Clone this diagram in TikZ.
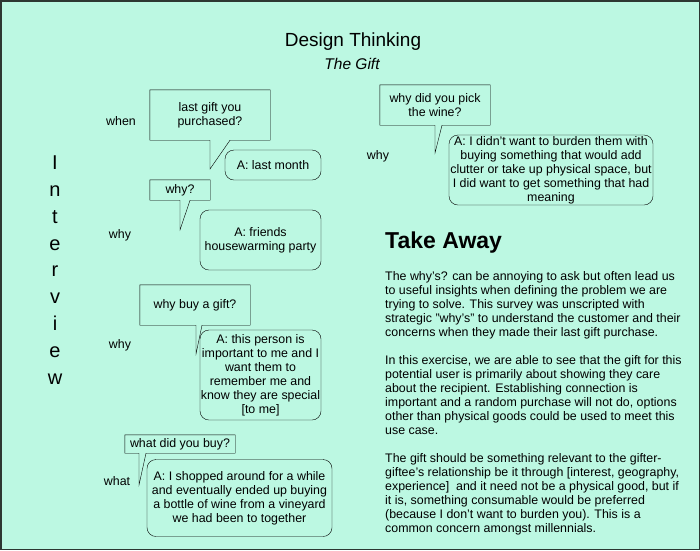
\documentclass[tikz,border=0pt]{standalone}
\usepackage{fontspec}
\setmainfont{Liberation Sans}
\usetikzlibrary{positioning,calc}
\definecolor{mint}{RGB}{188,248,226}
\definecolor{edge}{RGB}{45,55,50}

\begin{document}
\begin{tikzpicture}[x=1pt,y=-1pt,
  question/.style={rectangle,align=center,inner sep=0pt,font=\fontsize{12.4}{14}\selectfont},
  answer/.style={rectangle,draw,rounded corners=9pt,align=center,inner sep=0pt,font=\fontsize{12.4}{14}\selectfont},
  tag/.style={font=\fontsize{12.4}{14}\selectfont}]

\useasboundingbox (0,0) rectangle (700,550);
\fill[mint] (0,0) rectangle (700,550);
\draw[edge,line width=1.5pt] (0.75,0.75) rectangle (699.25,549.25);

% Title
\node (title) [font=\fontsize{19}{22}\selectfont] at (353,42) {Design Thinking};
\node (gift) [font=\itshape\fontsize{15.5}{18}\selectfont] at (352,64) {The Gift};

\node (iv) [align=center,font=\fontsize{20}{26.8}\selectfont] at (55,270) {I\\n\\t\\e\\r\\v\\i\\e\\w};

% Questions
\node (q1) [question,minimum width=120pt,minimum height=50pt] at (210,115) {last gift you\\purchased?};
\node (q2) [question,minimum width=60pt,minimum height=20pt] at (180,190) {why?};
\node (q3) [question,minimum width=110pt,minimum height=40pt] at (195,305) {why buy a gift?};
\node (q4) [question,minimum width=110pt,minimum height=18pt] at (180,444) {what did you buy?};
\node (q5) [question,minimum width=110pt,minimum height=40pt] at (435,105) {why did you pick\\the wine?};

\coordinate (t1) at (210,169);
\coordinate (t2) at (180,230);
\coordinate (t3) at (196,354);
\coordinate (t4) at (139,485);
\coordinate (t5) at (435,153);

\foreach \q/\w in {1/20,2/10,3/6,4/7,5/7}
  \draw (q\q.north west) -- (q\q.north east) -- (q\q.south east)
    -- ($(q\q.south -| t\q)+(\w,0)$) -- (t\q) -- (q\q.south -| t\q) -- (q\q.south west) -- cycle;

% Answers
\node (a1) [answer,minimum width=96pt,minimum height=30pt] at (273,165) {A: last month};
\node (a2) [answer,minimum width=121pt,minimum height=60pt] at (260.5,240) {A: friends\\housewarming party};
\node (a3) [answer,minimum width=121pt,minimum height=90pt] at (260.5,375) {A: this person is\\important to me and I\\want them to\\remember me and\\know they are special\\{[to me]}};
\node (a4) [answer,minimum width=185pt,minimum height=77pt] at (239.5,498) {A: I shopped around for a while\\and eventually ended up buying\\a bottle of wine from a vineyard\\we had been to together};
\node (a5) [answer,minimum width=204pt,minimum height=70pt] at (551,170) {A: I didn't want to burden them with\\buying something that would add\\clutter or take up physical space, but\\I did want to get something that had\\meaning};

% Labels
\node (when) [tag] at (121,121) {when};
\node (why1) [tag] at (120,235) {why};
\node (why2) [tag] at (120,345) {why};
\node (what) [tag] at (117,481) {what};
\node (why3) [tag] at (378,156) {why};

% Take Away
\node (take) [anchor=west,inner sep=0pt,font=\bfseries\fontsize{23}{26}\selectfont] at (385,243) {Take Away};
\node (body) [anchor=north west,align=left,inner sep=0pt,font=\fontsize{12.4}{14}\selectfont] at (385,271) {The why's? can be annoying to ask but often lead us\\
to useful insights when defining the problem we are\\
trying to solve. This survey was unscripted with\\
strategic "why's" to understand the customer and their\\
concerns when they made their last gift purchase.\\[14pt]
In this exercise, we are able to see that the gift for this\\
potential user is primarily about showing they care\\
about the recipient. Establishing connection is\\
important and a random purchase will not do, options\\
other than physical goods could be used to meet this\\
use case.\\[14pt]
The gift should be something relevant to the gifter-\\
giftee's relationship be it through [interest, geography,\\
experience]\ \ and it need not be a physical good, but if\\
it is, something consumable would be preferred\\
(because I don't want to burden you). This is a\\
common concern amongst millennials.};

\end{tikzpicture}
\end{document}
